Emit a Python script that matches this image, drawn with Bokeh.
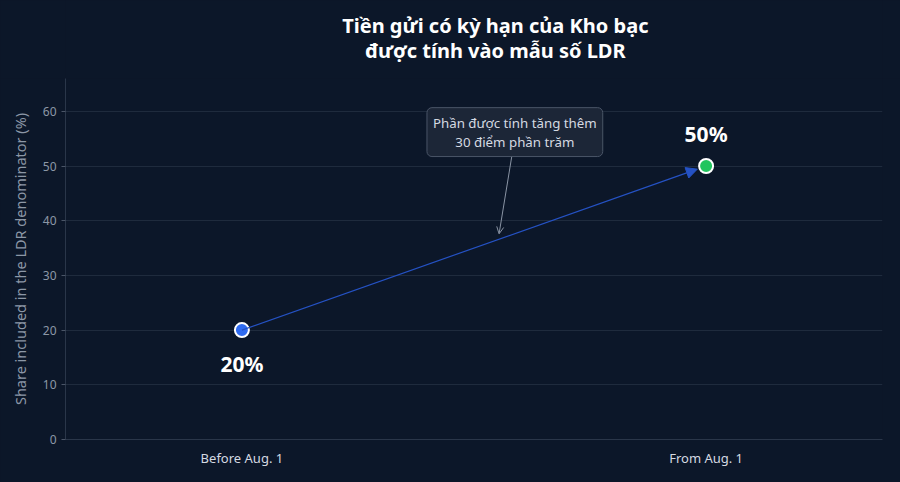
from bokeh.plotting import figure
from bokeh.layouts import column
from bokeh.models import (ColumnDataSource, Range1d, FixedTicker, Arrow, NormalHead,
                          OpenHead, Label, LabelSet)
from bokeh.core.properties import value
from bokeh.embed import file_html
from bokeh.resources import INLINE

# ---- data ----
periods = ["Before Aug. 1", "From Aug. 1"]
share = [20, 50]
point_colors = ["#2f6bf0", "#22c55e"]
value_labels = ["20%", "50%"]
title_lines = ["Tiền gửi có kỳ hạn của Kho bạc", "được tính vào mẫu số LDR"]
note_text = "Phần được tính tăng thêm\n30 điểm phần trăm"
y_label = "Share included in the LDR denominator (%)"

BG = "#0c1729"
FONT = "Noto Sans"
W, H, TOP = 900, 482, 78
ML, MR, MB = 65, 18, 43

xs = list(range(len(periods)))

# ---- title strip (a small figure whose frame fills it) ----
tfig = figure(width=W, height=TOP, output_backend="svg", toolbar_location=None,
              x_range=Range1d(0, W), y_range=Range1d(0, TOP),
              x_axis_type=None, y_axis_type=None,
              background_fill_color=BG, border_fill_color=BG,
              min_border=0, outline_line_color=None,
              styles={"background-color": BG})
tfig.xgrid.visible = False
tfig.ygrid.visible = False
tsrc = ColumnDataSource(dict(x=[(ML + W - MR) / 2] * 2, y=[TOP - 25, TOP - 50],
                             t=title_lines))
tfig.text("x", "y", text="t", source=tsrc, text_align="center",
          text_baseline="middle", text_color="#ffffff", text_font=value(FONT),
          text_font_size=value("20px"), text_font_style="bold")

# ---- main chart ----
p = figure(width=W, height=H - TOP, output_backend="svg", toolbar_location=None,
           x_range=Range1d(-0.38, 1.38), y_range=Range1d(0, 66),
           background_fill_color=BG, border_fill_color=BG,
           min_border_left=ML, min_border_right=MR, min_border_top=0,
           min_border_bottom=MB, outline_line_color=None,
           styles={"background-color": BG})

# axes
p.xaxis.ticker = FixedTicker(ticks=xs)
p.xaxis.major_label_overrides = {i: s for i, s in enumerate(periods)}
p.xaxis.major_label_text_color = "#d5dae2"
p.xaxis.major_label_text_font = FONT
p.xaxis.major_label_text_font_size = "13px"
p.xaxis.major_tick_line_color = None
p.xaxis.major_tick_in = 0
p.xaxis.major_tick_out = 0
p.xaxis.minor_tick_line_color = None
p.xaxis.minor_tick_out = 0
p.xaxis.axis_line_color = "#2a3649"
p.xaxis.major_label_standoff = 9

p.yaxis.ticker = FixedTicker(ticks=[0, 10, 20, 30, 40, 50, 60])
p.yaxis.major_label_text_color = "#8c97a7"
p.yaxis.major_label_text_font = FONT
p.yaxis.major_label_text_font_size = "12px"
p.yaxis.major_tick_line_color = "#4a5567"
p.yaxis.major_tick_in = 0
p.yaxis.major_tick_out = 4
p.yaxis.minor_tick_line_color = None
p.yaxis.axis_line_color = "#2a3649"
p.yaxis.axis_label = y_label
p.yaxis.axis_label_text_color = "#8c97a7"
p.yaxis.axis_label_text_font = FONT
p.yaxis.axis_label_text_font_size = "14.5px"
p.yaxis.axis_label_text_font_style = "normal"
p.yaxis.axis_label_standoff = 10

p.xgrid.grid_line_color = None
p.ygrid.grid_line_color = "#1f2b3d"
p.ygrid.grid_line_width = 1

# connecting arrow between points (stop at marker edge)
frac = 0.019
x_end = xs[0] + (xs[1] - xs[0]) * (1 - frac)
y_end = share[0] + (share[1] - share[0]) * (1 - frac)
p.add_layout(Arrow(x_start=xs[0], y_start=share[0], x_end=x_end, y_end=y_end,
                   line_color="#2552c4", line_width=1.2,
                   end=NormalHead(size=11, fill_color="#2552c4", line_color="#2552c4")))

src = ColumnDataSource(dict(x=xs, y=share, c=point_colors, lab=value_labels,
                            yo=[-34, 32]))
p.scatter("x", "y", source=src, size=14, fill_color="c", line_color="#ffffff",
          line_width=2)

p.add_layout(LabelSet(x="x", y="y", text="lab", source=src, y_offset="yo",
                      text_align="center", text_baseline="middle",
                      text_color="#ffffff", text_font=value(FONT),
                      text_font_size=value("21px"),
                      text_font_style=value("bold")))

# annotation with arrow
note_x, note_y = 0.588, 56.2
p.add_layout(Arrow(x_start=0.583, y_start=52.6, x_end=0.554, y_end=37.6,
                   line_color="#8a94a4", line_width=1,
                   end=OpenHead(size=7, line_color="#8a94a4", line_width=1)))
p.add_layout(Label(x=note_x, y=note_y, text=note_text, text_align="center",
                   text_baseline="middle", text_color="#d5dae2", text_font=FONT,
                   text_font_size="13.3px", text_line_height=1.05,
                   background_fill_color="#1c2637", background_fill_alpha=1,
                   border_line_color="#4a5567", border_line_width=1,
                   padding=6, border_radius=5))

layout = column(tfig, p, spacing=0, styles={"background-color": BG})

open("out.html", "w").write(file_html(layout, INLINE))
